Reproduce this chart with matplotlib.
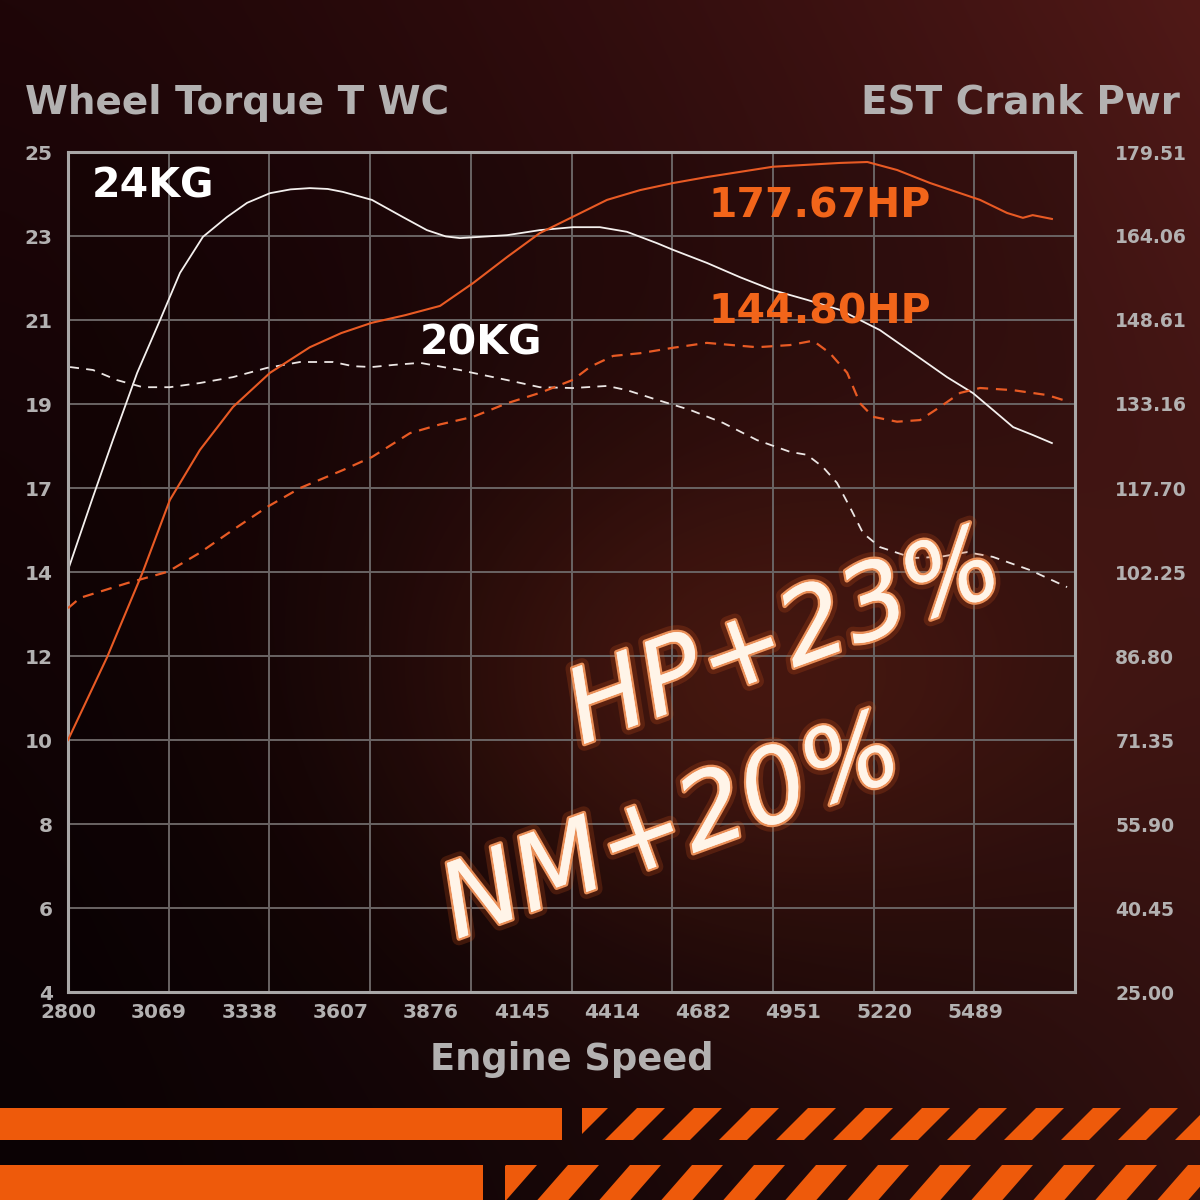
import numpy as np
import matplotlib
matplotlib.use("Agg")
import matplotlib.pyplot as plt
import matplotlib.patheffects as pe
from matplotlib.patches import Rectangle, Polygon

# ----------------------------
# data
# ----------------------------
rpm_ticks = [2800, 3069, 3338, 3607, 3876, 4145, 4414, 4682, 4951, 5220, 5489]
torque_ticks = [4, 6, 8, 10, 12, 14, 17, 19, 21, 23, 25]
power_ticks = [25.00, 40.45, 55.90, 71.35, 86.80, 102.25, 117.70, 133.16, 148.61, 164.06, 179.51]

# tuned power (177.67HP), solid orange
hp_tuned_rpm = [2800, 2916, 3022, 3102, 3191, 3289, 3399, 3517, 3610, 3701, 3800, 3903, 4001,
                4102, 4199, 4297, 4398, 4496, 4594, 4694, 4890, 5089, 5170, 5258, 5356,
                5504, 5584, 5631, 5660, 5717]
hp_tuned = [71.35, 86.6, 102.3, 115.5, 124.7, 132.6, 138.9, 143.6, 146.2, 148.1, 149.5, 151.2,
            155.4, 160.2, 164.6, 167.6, 170.7, 172.5, 173.8, 174.9, 176.8, 177.5, 177.67, 176.2,
            173.8, 170.7, 168.3, 167.4, 167.9, 167.2]

# stock power (144.80HP), dashed orange
hp_stock_rpm = [2800, 2836, 2975, 3096, 3191, 3289, 3390, 3488, 3615, 3701, 3814, 3903,
                4001, 4102, 4199, 4297, 4348, 4416, 4496, 4594, 4694, 4843, 4941, 5009,
                5059, 5110, 5148, 5187, 5258, 5326, 5385, 5445, 5504, 5602, 5703, 5771]
hp_stock = [95.6, 97.5, 100.2, 102.3, 105.8, 110.0, 114.2, 117.7, 121.0, 123.4, 127.8, 129.4,
            130.8, 133.3, 135.2, 137.6, 140.0, 142.0, 142.5, 143.5, 144.4, 143.6, 144.0, 144.8,
            142.5, 138.9, 133.3, 130.8, 129.9, 130.2, 132.6, 135.2, 136.1, 135.7, 134.8, 133.5]

# tuned torque (24KG), solid white
tq_tuned_rpm = [2800, 2874, 2933, 3005, 3073, 3132, 3200, 3271, 3331, 3399, 3460, 3517, 3570,
                3615, 3701, 3793, 3864, 3920, 3962, 4102, 4199, 4297, 4377, 4457, 4546, 4594,
                4694, 4792, 4890, 4991, 5089, 5207, 5305, 5406, 5483, 5542, 5602, 5661, 5717]
tq_tuned = [14.07, 16.68, 18.14, 19.74, 21.0, 22.12, 22.98, 23.45, 23.79, 24.02, 24.11, 24.14,
            24.12, 24.05, 23.86, 23.45, 23.14, 22.99, 22.95, 23.02, 23.14, 23.21, 23.21, 23.10,
            22.83, 22.67, 22.36, 22.02, 21.71, 21.48, 21.24, 20.76, 20.21, 19.64, 19.26, 18.86,
            18.45, 18.26, 18.07]

# stock torque (20KG), dashed white
tq_stock_rpm = [2806, 2874, 2945, 3022, 3102, 3191, 3289, 3390, 3488, 3586, 3645, 3701,
                3764, 3844, 3912, 3962, 4001, 4102, 4199, 4297, 4398, 4457, 4546, 4644,
                4742, 4843, 4941, 4991, 5038, 5080, 5118, 5157, 5207, 5305, 5385, 5465,
                5542, 5652, 5762]
tq_stock = [19.88, 19.81, 19.57, 19.40, 19.40, 19.50, 19.64, 19.86, 20.0, 20.0, 19.90, 19.88,
            19.93, 19.98, 19.88, 19.81, 19.74, 19.57, 19.40, 19.38, 19.43, 19.33, 19.10, 18.86,
            18.55, 18.14, 17.86, 17.79, 17.5, 17.12, 16.32, 15.39, 14.89, 14.50, 14.54, 14.71,
            14.54, 14.07, 13.64]

ORANGE = "#e85a24"
BAR = "#ee5a0b"
GREY = "#b3b1b1"
GRID = "#6a6464"


def px(x, y):
    # pixel position -> figure fraction
    return x / 1200, 1 - y / 1200


fig = plt.figure(figsize=(12, 12), dpi=100)

# ----------------------------
# background gradient + glow
# ----------------------------
bg = fig.add_axes([0, 0, 1, 1], zorder=-10)
yy, xx = np.mgrid[0:1200:300j, 0:1200:300j]
tx, ty = xx / 1200, yy / 1200
dark = np.array([11, 2, 4]) / 255
brown = np.array([60, 21, 19]) / 255
mix = np.clip(tx ** 1.4 * (1 - 0.3 * ty), 0, 1)
img = dark + (brown - dark) * mix[..., None]
img += (np.array([20, 4, 4]) / 255) * ((1 - ty) ** 1.5)[..., None]
d = np.hypot((xx - 730) / 330, (yy - 690) / 240)
img += np.exp(-d ** 2)[..., None] * np.array([46, 17, 8]) / 255
bg.imshow(np.clip(img, 0, 1), extent=(0, 1200, 1200, 0), interpolation="bicubic", aspect="auto")
bg.set_xlim(0, 1200)
bg.set_ylim(1200, 0)
bg.axis("off")

# bottom stripes
bg.add_patch(Rectangle((0, 1108), 562, 32, color=BAR, lw=0))
bg.add_patch(Rectangle((0, 1165), 483, 40, color=BAR, lw=0))
clip1 = Rectangle((582, 1108), 640, 32, transform=bg.transData)
clip2 = Rectangle((505, 1165), 720, 40, transform=bg.transData)
for a in np.arange(580, 1260, 57):
    p = Polygon([(a, 1108), (a + 28, 1108), (a - 4, 1140), (a - 32, 1140)], color=BAR, lw=0)
    bg.add_patch(p)
    p.set_clip_path(clip1)
for a in np.arange(506, 1260, 62):
    p = Polygon([(a, 1165), (a + 31, 1165), (a - 4, 1205), (a - 35, 1205)], color=BAR, lw=0)
    bg.add_patch(p)
    p.set_clip_path(clip2)

# ----------------------------
# main chart
# ----------------------------
ax = fig.add_axes([68 / 1200, 1 - 992 / 1200, 1007 / 1200, 840 / 1200])
ax.set_facecolor((0, 0, 0, 0.18))

idx = np.arange(len(torque_ticks))
ax.set_yscale("function", functions=(lambda v: np.interp(v, torque_ticks, idx),
                                     lambda i: np.interp(i, idx, torque_ticks)))
ax.set_ylim(torque_ticks[0], torque_ticks[-1])
ax.set_xlim(2800, 5785.5)

ax.set_xticks(rpm_ticks)
ax.set_xticklabels([str(r) for r in rpm_ticks], fontweight="bold", fontsize=14.5)
ax.set_xticks(np.linspace(2800, 5785.5, 11), minor=True)
ax.set_yticks(torque_ticks)
ax.set_yticklabels([str(t) for t in torque_ticks], fontweight="bold", fontsize=14.5)
ax.yaxis.set_minor_locator(matplotlib.ticker.NullLocator())
ax.grid(which="minor", axis="x", color=GRID, lw=1.4)
ax.grid(which="major", axis="y", color=GRID, lw=1.4)
ax.tick_params(which="both", length=0, labelcolor=GREY)
ax.tick_params(axis="x", pad=8)
ax.tick_params(axis="y", pad=11)
for s in ax.spines.values():
    s.set_color("#a9a7a7")
    s.set_linewidth(2.2)

ax2 = ax.twinx()
ax2.set_ylim(power_ticks[0], power_ticks[-1])
ax2.set_yticks(power_ticks)
ax2.set_yticklabels([f"{p:.2f}" for p in power_ticks], fontweight="bold")
ax2.tick_params(length=0, labelsize=13.5, labelcolor=GREY, pad=29)
for s in ax2.spines.values():
    s.set_visible(False)

ax.plot(tq_tuned_rpm, tq_tuned, color="#f4f0ee", lw=1.3)
ax.plot(tq_stock_rpm, tq_stock, color="#ece6e4", lw=1.3, dashes=(5, 4))
ax2.plot(hp_tuned_rpm, hp_tuned, color=ORANGE, lw=1.5)
ax2.plot(hp_stock_rpm, hp_stock, color=ORANGE, lw=1.6, dashes=(5, 3.5))

# ----------------------------
# labels
# ----------------------------
fig.text(*px(25, 103), "Wheel Torque T WC", fontsize=28, fontweight="bold", color=GREY,
         ha="left", va="center")
fig.text(*px(1180, 103), "EST Crank Pwr", fontsize=28, fontweight="bold", color=GREY,
         ha="right", va="center")
fig.text(*px(572, 1060), "Engine Speed", fontsize=26.5, fontweight="bold", color=GREY,
         ha="center", va="center")

fig.text(*px(92, 187), "24KG", fontsize=29.5, fontweight="heavy", color="white", va="center")
fig.text(*px(420, 343), "20KG", fontsize=29.5, fontweight="heavy", color="white", va="center")
fig.text(*px(708, 207), "177.67HP", fontsize=29.5, fontweight="heavy", color="#f2651a", va="center")
fig.text(*px(708, 313), "144.80HP", fontsize=29.5, fontweight="heavy", color="#f2651a", va="center")

glow = [pe.withStroke(linewidth=10, foreground="#d0541c", alpha=0.22),
        pe.withStroke(linewidth=3.5, foreground="#ea8f58"),
        pe.Normal()]
fig.text(*px(785, 640), "HP+23%", fontsize=74, style="oblique", color="#fff4e8",
         rotation=20, ha="center", va="center", path_effects=glow)
fig.text(*px(672, 830), "NM+20%", fontsize=74, style="oblique", color="#fff4e8",
         rotation=20, ha="center", va="center", path_effects=glow)

fig.savefig("out.png", dpi=100)
